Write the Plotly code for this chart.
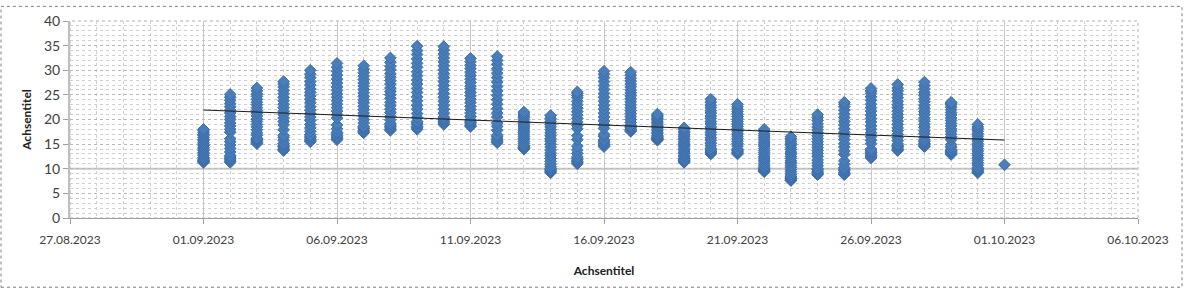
import numpy as np
import pandas as pd
import plotly.graph_objects as go

# ---- data: temperature readings per day ----
day_labels = [
    "2023-09-01", "2023-09-02", "2023-09-03", "2023-09-04", "2023-09-05",
    "2023-09-06", "2023-09-07", "2023-09-08", "2023-09-09", "2023-09-10",
    "2023-09-11", "2023-09-12", "2023-09-13", "2023-09-14", "2023-09-15",
    "2023-09-16", "2023-09-17", "2023-09-18", "2023-09-19", "2023-09-20",
    "2023-09-21", "2023-09-22", "2023-09-23", "2023-09-24", "2023-09-25",
    "2023-09-26", "2023-09-27", "2023-09-28", "2023-09-29", "2023-09-30",
    "2023-10-01",
]

readings = [
    [11.3, 11.4, 11.5, 11.7, 11.8, 12.0, 12.3, 12.7, 13.0, 13.3, 13.7, 14.0, 14.3, 14.7,
     15.0, 15.3, 15.7, 16.0, 16.3, 16.7, 17.0, 17.3, 17.7, 18.0],
    [11.3, 11.5, 11.8, 12.1, 12.4, 12.7, 13.4, 14.1, 14.8, 15.5, 16.1, 17.4, 18.0, 18.7,
     19.3, 20.0, 20.6, 21.3, 21.9, 22.6, 23.2, 23.9, 24.5, 25.1],
    [15.1, 15.3, 15.5, 15.8, 16.0, 16.2, 16.8, 17.3, 17.9, 18.5, 19.0, 19.6, 20.1, 20.7,
     21.3, 21.8, 22.4, 23.0, 23.5, 24.1, 24.7, 25.2, 25.8, 26.4],
    [13.7, 13.9, 14.2, 14.5, 14.8, 15.1, 15.8, 16.4, 16.8, 17.9, 18.9, 19.6, 20.3, 21.0,
     21.7, 22.4, 23.1, 23.8, 24.5, 25.2, 25.9, 26.6, 27.2, 27.7],
    [15.5, 15.7, 16.0, 16.3, 16.6, 16.9, 17.6, 18.3, 19.0, 19.8, 20.5, 21.2, 21.9, 22.6,
     23.4, 24.1, 24.8, 25.5, 26.2, 27.0, 27.7, 28.5, 29.2, 30.0],
    [15.9, 16.1, 16.4, 16.7, 17.1, 17.4, 18.1, 18.9, 20.3, 21.0, 21.7, 22.4, 23.1, 23.8,
     24.5, 25.2, 25.9, 26.6, 27.4, 28.2, 29.0, 29.8, 30.6, 31.4],
    [17.3, 17.5, 17.8, 18.1, 18.3, 18.6, 19.3, 20.0, 20.7, 21.3, 22.0, 22.7, 23.4, 24.0,
     24.7, 25.4, 26.1, 26.8, 27.4, 28.1, 28.8, 29.5, 30.2, 30.9],
    [17.8, 18.0, 18.3, 18.6, 18.9, 19.2, 19.9, 20.6, 21.4, 22.1, 22.8, 23.5, 24.3, 25.0,
     25.7, 26.4, 27.2, 27.9, 28.6, 29.3, 30.1, 30.8, 31.6, 32.5],
    [18.0, 18.3, 18.6, 19.0, 19.3, 19.6, 20.4, 21.2, 22.1, 22.9, 23.8, 24.6, 25.5, 26.3,
     27.2, 28.0, 28.9, 29.7, 30.6, 31.4, 32.3, 33.2, 34.0, 34.9],
    [19.0, 19.3, 19.6, 19.9, 20.2, 20.5, 21.3, 22.1, 22.9, 23.7, 24.5, 25.3, 26.1, 26.9,
     27.7, 28.5, 29.3, 30.1, 30.9, 31.7, 32.5, 33.3, 34.1, 34.8],
    [18.6, 18.8, 19.1, 19.4, 19.7, 19.9, 20.6, 21.3, 22.0, 22.7, 23.4, 24.1, 24.8, 25.5,
     26.2, 26.8, 27.5, 28.2, 28.9, 29.6, 30.3, 31.0, 31.7, 32.4],
    [15.3, 15.5, 15.8, 16.1, 16.5, 16.8, 17.8, 18.6, 19.3, 20.5, 21.3, 22.2, 23.1, 24.0,
     24.9, 25.8, 26.7, 27.6, 28.5, 29.4, 30.3, 31.2, 32.0, 32.8],
    [14.0, 14.1, 14.3, 14.4, 14.6, 14.7, 15.1, 15.5, 15.9, 16.2, 16.6, 17.0, 17.4, 17.7,
     18.1, 18.5, 18.9, 19.2, 19.6, 20.0, 20.4, 20.7, 21.1, 21.5],
    [9.2, 9.4, 9.6, 9.8, 10.1, 10.4, 10.9, 11.5, 12.1, 12.7, 13.2, 13.8, 14.4, 15.0,
     15.6, 16.1, 16.7, 17.3, 17.9, 18.5, 19.0, 19.6, 20.2, 20.8],
    [11.0, 11.2, 11.5, 11.8, 12.1, 12.4, 13.1, 13.8, 14.6, 15.9, 16.7, 18.1, 18.8, 19.5,
     20.2, 20.9, 21.6, 22.3, 23.0, 23.7, 24.4, 24.9, 25.3, 25.6],
    [14.5, 14.7, 15.0, 15.3, 15.6, 15.9, 16.6, 17.0, 18.2, 18.9, 19.7, 20.5, 21.3, 22.1,
     22.9, 23.7, 24.5, 25.3, 26.1, 26.9, 27.7, 28.5, 29.2, 29.8],
    [17.6, 17.8, 18.0, 18.3, 18.5, 18.8, 19.4, 20.0, 20.6, 21.2, 21.8, 22.4, 23.0, 23.6,
     24.2, 24.8, 25.4, 26.0, 26.6, 27.2, 27.8, 28.4, 29.0, 29.6],
    [15.8, 15.9, 16.0, 16.1, 16.2, 16.3, 16.5, 16.8, 17.1, 17.4, 17.7, 18.0, 18.3, 18.6,
     18.8, 19.1, 19.4, 19.7, 20.0, 20.2, 20.5, 20.7, 20.9, 21.1],
    [11.3, 11.4, 11.6, 11.7, 11.9, 12.0, 12.4, 12.7, 13.1, 13.4, 13.8, 14.1, 14.5, 14.8,
     15.2, 15.5, 15.9, 16.2, 16.6, 16.9, 17.3, 17.6, 18.0, 18.3],
    [13.0, 13.2, 13.4, 13.6, 13.9, 14.1, 14.7, 15.2, 15.8, 16.3, 16.9, 17.4, 18.0, 18.5,
     19.1, 19.6, 20.2, 20.7, 21.3, 21.8, 22.4, 22.9, 23.5, 24.1],
    [13.0, 13.2, 13.4, 13.6, 13.8, 14.0, 14.6, 15.1, 15.6, 16.1, 16.6, 17.1, 17.6, 18.1,
     18.6, 19.1, 19.6, 20.1, 20.6, 21.1, 21.6, 22.1, 22.6, 23.1],
    [9.4, 9.5, 9.7, 9.9, 10.1, 10.3, 10.7, 11.1, 11.6, 12.0, 12.4, 12.9, 13.3, 13.7,
     14.1, 14.6, 15.0, 15.4, 15.9, 16.3, 16.7, 17.1, 17.6, 18.0],
    [7.6, 7.7, 7.9, 8.1, 8.3, 8.5, 8.9, 9.4, 9.8, 10.3, 10.7, 11.2, 11.6, 12.1,
     12.5, 13.0, 13.4, 13.9, 14.3, 14.8, 15.2, 15.6, 16.1, 16.5],
    [8.8, 9.0, 9.2, 9.5, 9.8, 10.0, 10.6, 11.2, 11.8, 12.5, 13.1, 13.7, 14.3, 14.9,
     15.5, 16.1, 16.7, 17.3, 17.9, 18.5, 19.1, 19.8, 20.4, 21.0],
    [8.8, 9.0, 9.3, 9.6, 9.9, 10.2, 10.9, 11.6, 12.9, 13.6, 14.4, 15.1, 15.9, 16.6,
     17.4, 18.1, 18.9, 19.6, 20.4, 21.1, 21.9, 22.6, 23.1, 23.5],
    [12.2, 12.4, 12.7, 13.0, 13.3, 13.6, 14.0, 15.1, 15.8, 16.5, 17.3, 18.0, 18.7, 19.5,
     20.2, 20.9, 21.7, 22.4, 23.1, 23.9, 24.6, 25.3, 25.8, 26.3],
    [13.7, 13.9, 14.2, 14.5, 14.7, 15.0, 15.7, 16.3, 17.0, 17.7, 18.3, 19.0, 19.7, 20.4,
     21.0, 21.7, 22.4, 23.0, 23.7, 24.4, 25.1, 25.8, 26.4, 27.1],
    [14.5, 14.7, 15.0, 15.2, 15.5, 15.8, 16.4, 17.1, 17.7, 18.4, 19.0, 19.7, 20.3, 21.0,
     21.6, 22.3, 22.9, 23.6, 24.2, 24.9, 25.5, 26.2, 26.9, 27.6],
    [12.9, 13.1, 13.3, 13.5, 13.7, 13.9, 14.4, 14.9, 15.9, 16.5, 17.0, 17.6, 18.1, 18.7,
     19.2, 19.8, 20.3, 20.9, 21.4, 22.0, 22.5, 23.0, 23.3, 23.5],
    [9.2, 9.4, 9.6, 9.8, 10.0, 10.2, 10.7, 11.2, 11.7, 12.2, 12.7, 13.1, 13.6, 14.1,
     14.6, 15.1, 15.6, 16.1, 16.6, 17.1, 17.6, 18.1, 18.5, 19.0],
    [10.8],
]

x_tick_dates = ["2023-08-27", "2023-09-01", "2023-09-06", "2023-09-11",
                "2023-09-16", "2023-09-21", "2023-09-26", "2023-10-01", "2023-10-06"]
x_tick_text = ["27.08.2023", "01.09.2023", "06.09.2023", "11.09.2023",
               "16.09.2023", "21.09.2023", "26.09.2023", "01.10.2023", "06.10.2023"]
axis_title = "Achsentitel"

# ---- build flat series ----
xs, ys = [], []
for d, vals in zip(day_labels, readings):
    for v in vals:
        xs.append(d)
        ys.append(v)
xdt = pd.to_datetime(xs)

# linear trendline (least squares over all readings, as Excel does)
xnum = (xdt - xdt.min()).days.to_numpy().astype(float)
k, b = np.polyfit(xnum, np.array(ys), 1)
t_x = [xdt.min(), xdt.max()]
t_y = [b, b + k * xnum.max()]

FONT = "Lato, 'Open Sans', sans-serif"

fig = go.Figure()
fig.add_trace(go.Scatter(
    x=xdt, y=ys, mode="markers",
    marker=dict(symbol="diamond", size=9, color="#4A7EBB",
                line=dict(color="#3C6DA8", width=1)),
    showlegend=False, hoverinfo="x+y",
))
fig.add_trace(go.Scatter(
    x=t_x, y=t_y, mode="lines",
    line=dict(color="#1a1a1a", width=1), showlegend=False, hoverinfo="skip",
))

L, R, T, B = 70, 1138, 16, 218
W, H = 1184, 291
pw, ph = R - L, B - T


def px(x):
    return (x - L) / pw


def py(y):
    return (B - y) / ph


fig.update_layout(
    width=W, height=H,
    margin=dict(l=L, r=W - R, t=T, b=H - B),
    paper_bgcolor="white", plot_bgcolor="white",
    font=dict(family=FONT, size=12, color="#404040"),
    xaxis=dict(
        type="date",
        range=[x_tick_dates[0], x_tick_dates[-1]],
        tickvals=pd.to_datetime(x_tick_dates), ticktext=x_tick_text,
        showgrid=True, gridcolor="#C8C8C8", gridwidth=1,
        minor=dict(dtick=86400000, showgrid=True, gridcolor="#D0D0D0",
                   griddash="dot", gridwidth=1),
        ticks="outside", ticklen=5, tickcolor="#A0A0A0",
        ticklabelstandoff=6,
        showline=True, linecolor="#A0A0A0", linewidth=1,
        zeroline=False, tickfont=dict(size=12, color="#404040"),
        title=dict(text="<b>" + axis_title + "</b>", font=dict(size=12, color="#202020"),
                   standoff=20),
    ),
    yaxis=dict(
        range=[0, 40], dtick=5, tick0=0,
        showgrid=True, gridcolor="#B8B8B8", gridwidth=1, griddash="dot",
        minor=dict(dtick=1, showgrid=True, gridcolor="#CFCFCF",
                   griddash="dot", gridwidth=1),
        ticks="outside", ticklen=5, tickcolor="#A0A0A0",
        showline=True, linecolor="#BFBFBF", linewidth=2,
        zeroline=False, tickfont=dict(size=14, color="#404040"),
        title=dict(text="<b>" + axis_title + "</b>", font=dict(size=12, color="#202020"),
                   standoff=10),
    ),
    shapes=[
        dict(type="rect", xref="paper", yref="paper", x0=0, x1=1, y0=0, y1=1,
             line=dict(color="#B0B0B0", width=1, dash="dot"), layer="below"),
        dict(type="line", xref="paper", yref="y", x0=0, x1=1, y0=10, y1=10,
             line=dict(color="#C8C8C8", width=2), layer="below"),
        dict(type="rect", xref="paper", yref="paper",
             x0=px(1), x1=px(1182), y0=py(289), y1=py(1),
             line=dict(color="#808080", width=1, dash="dot")),
    ],
)

fig.write_html("out.html")
